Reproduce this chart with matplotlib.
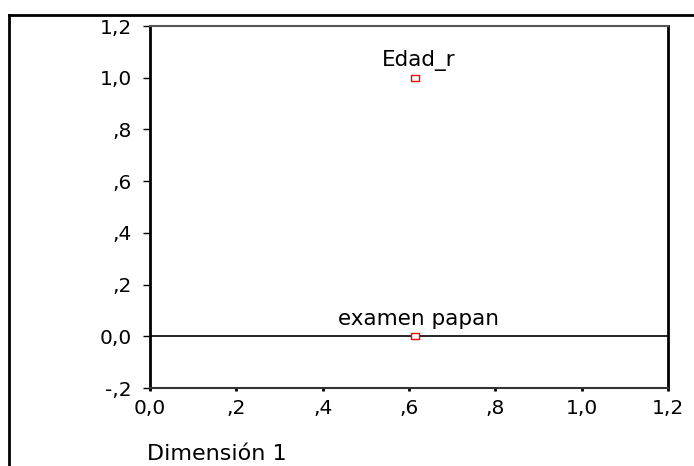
import matplotlib.pyplot as plt
from matplotlib.lines import Line2D

plt.rcParams['font.family'] = ['DejaVu Sans']

labels = ['Edad_r', 'examen papan']
dim1 = [0.615, 0.615]
dim2 = [1.0, 0.0]

xticks = [0.0, 0.2, 0.4, 0.6, 0.8, 1.0, 1.2]
xticklabels = ['0,0', ',2', ',4', ',6', ',8', '1,0', '1,2']
yticks = [-0.2, 0.0, 0.2, 0.4, 0.6, 0.8, 1.0, 1.2]
yticklabels = ['-,2', '0,0', ',2', ',4', ',6', ',8', '1,0', '1,2']

W, H = 694, 466
fig = plt.figure(figsize=(W / 100, H / 100), dpi=100)
ax = fig.add_axes([150 / W, 1 - 388 / H, 518 / W, 362 / H])

# flat rectangle marker, like the SPSS one
rect = [(-1.6, -1), (1.6, -1), (1.6, 1), (-1.6, 1), (-1.6, -1)]

ax.axhline(0, color='black', lw=1.2, zorder=1)
ax.scatter(dim1, dim2, marker=rect, s=40, facecolors='white', edgecolors='red',
           linewidths=1, zorder=3)
for x, y, t in zip(dim1, dim2, labels):
    ax.annotate(t, (x, y), xytext=(2, 5), textcoords='offset points',
                ha='center', va='bottom', fontsize=15.5)

ax.set_xlim(0, 1.2)
ax.set_ylim(-0.2, 1.2)
ax.set_xticks(xticks)
ax.set_xticklabels(xticklabels, fontsize=14.5)
ax.set_yticks(yticks)
ax.set_yticklabels(yticklabels, fontsize=14.5)
ax.tick_params(axis='y', length=5, width=1, pad=8)
ax.tick_params(axis='x', length=2, width=2, direction='out', pad=6)

ax.spines['left'].set_linewidth(2)
ax.spines['right'].set_linewidth(2)
ax.spines['top'].set_linewidth(1.5)
ax.spines['top'].set_color('#555555')
ax.spines['bottom'].set_linewidth(1.5)
ax.spines['bottom'].set_color('#333333')

fig.text(147 / W, 1 - 454 / H, 'Dimensión 1', fontsize=16, ha='left', va='center')

# outer frame (only left and top edges visible)
fig.add_artist(Line2D([9 / W, 9 / W], [0, 1 - 15 / H], transform=fig.transFigure,
                      color='black', lw=2))
fig.add_artist(Line2D([9 / W, 1], [1 - 15 / H, 1 - 15 / H], transform=fig.transFigure,
                      color='black', lw=2))

fig.savefig('out.png', dpi=100)
